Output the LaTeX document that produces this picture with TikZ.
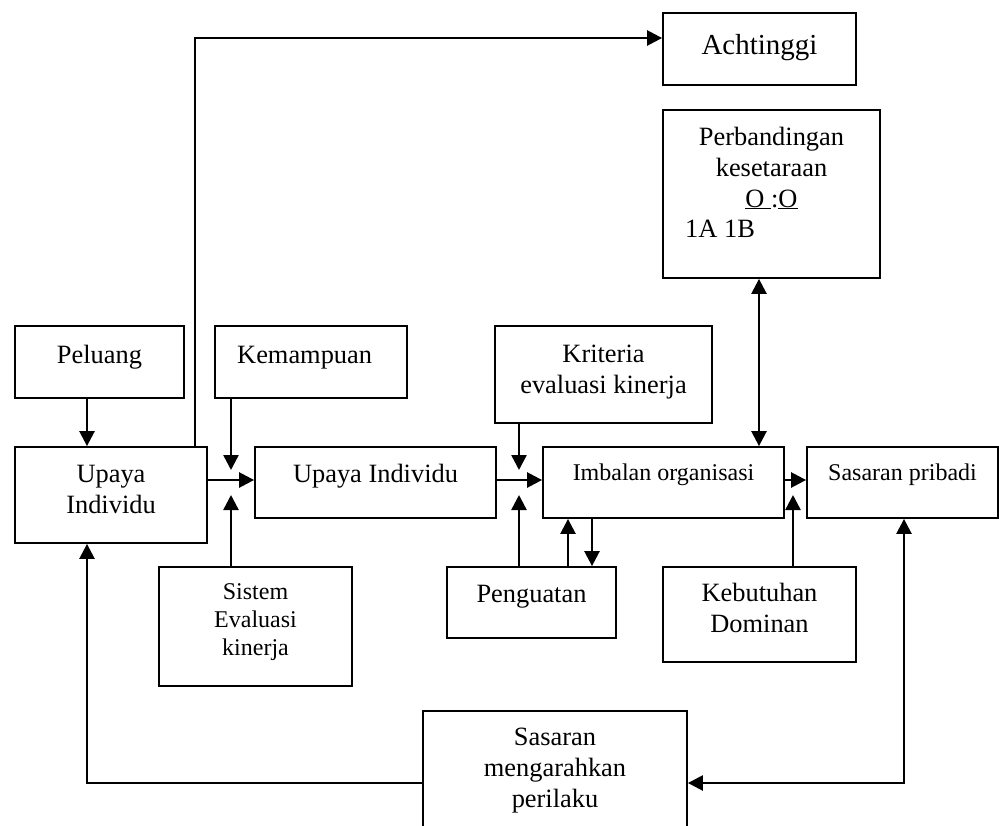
\documentclass[tikz,border=0pt]{standalone}
\usepackage{fontspec}
\setmainfont{Liberation Serif}
\usetikzlibrary{arrows.meta,fit}
\tikzset{
  box/.style={draw, line width=1.8pt, inner sep=0pt, rectangle},
  txt/.style={inner sep=0pt, font=\fontsize{26.4pt}{31pt}\selectfont, align=center},
  txtsm/.style={inner sep=0pt, font=\fontsize{24pt}{28pt}\selectfont, align=center},
  conn/.style={line width=2.5pt},
  arr/.style={conn, -{Triangle[length=15pt,width=15pt]}},
  darr/.style={conn, {Triangle[length=15pt,width=15pt]}-{Triangle[length=15pt,width=15pt]}}
}
\begin{document}
\begin{tikzpicture}[x=1pt,y=-1pt]
\useasboundingbox (0,0) rectangle (999,825);
\clip (0,0) rectangle (999,825);
\fill[white] (0,0) rectangle (999,825);

% boxes
\node[box, fit={(663,13) (856,85)}] (ach) {};
\node[box, fit={(663,110) (880,278)}] (perb) {};
\node[box, fit={(15,326) (184,398)}] (peluang) {};
\node[box, fit={(215,326) (407,398)}] (kemampuan) {};
\node[box, fit={(495,326) (712,423)}] (kriteria) {};
\node[box, fit={(15,447) (207,543)}] (upaya1) {};
\node[box, fit={(255,447) (496,518)}] (upaya2) {};
\node[box, fit={(543,447) (784,518)}] (imbalan) {};
\node[box, fit={(807,447) (998,518)}] (pribadi) {};
\node[box, fit={(159,567) (352,686)}] (sistem) {};
\node[box, fit={(447,567) (616,638)}] (penguatan) {};
\node[box, fit={(663,567) (856,662)}] (kebutuhan) {};
\node[box, fit={(423,711) (687,860)}] (sasaran) {};

% texts (multi-line nodes sit on the baseline of their last line)
\node[txt, anchor=base, font=\fontsize{29pt}{33pt}\selectfont] (tach) at (759.5,54) {Achtinggi};
\node[txt, anchor=base] (tperb) at (771.5,207) {Perbandingan\\kesetaraan\\\underline{O\ }:\underline{O}};
\node[txt, anchor=base west] (tperb2) at (685,237) {1A 1B};
\node[txt, anchor=base] (tpel) at (99.5,363) {Peluang};
\node[txt, anchor=base west] (tkem) at (237,363) {Kemampuan};
\node[txt, anchor=base] (tkri) at (603.5,393) {Kriteria\\evaluasi kinerja};
\node[txt, anchor=base] (tup1) at (111,513) {Upaya\\Individu};
\node[txt, anchor=base] (tup2) at (375.5,482) {Upaya Individu};
\node[txtsm, anchor=base] (timb) at (663.5,480) {Imbalan organisasi};
\node[txtsm, anchor=base] (tpri) at (902.5,480) {Sasaran pribadi};
\node[txtsm, anchor=base] (tsis) at (255.5,655) {Sistem\\Evaluasi\\kinerja};
\node[txt, anchor=base] (tpen) at (531.5,602) {Penguatan};
\node[txt, anchor=base] (tkeb) at (759.5,632) {Kebutuhan\\Dominan};
\node[txt, anchor=base] (tsas) at (555,807) {Sasaran\\mengarahkan\\perilaku};

% connector bends and free ends
\coordinate (topbend) at (195,38);
\coordinate (kemtip) at (231,470);
\coordinate (sistip) at (231,495);
\coordinate (kritip) at (519,470);
\coordinate (pentip) at (519,495);
\coordinate (kebtip) at (793,495);
\coordinate (lowR) at (904,783);
\coordinate (lowL) at (87,783);

% connectors
\draw[arr] (topbend |- upaya1.north) -- (topbend) -- (topbend -| ach.west);
\draw[arr] (peluang.south -| lowL) -- (upaya1.north -| lowL);
\draw[arr] (kemtip |- kemampuan.south) -- (kemtip);
\draw[arr] (sistip |- sistem.north) -- (sistip);
\draw[arr] (upaya1.east |- 0,480) -- (upaya2.west |- 0,480);
\draw[arr] (upaya2.east |- 0,480) -- (imbalan.west |- 0,480);
\draw[arr] (kritip |- kriteria.south) -- (kritip);
\draw[arr] (pentip |- penguatan.north) -- (pentip);
\draw[arr] (568,0 |- penguatan.north) -- (568,0 |- imbalan.south);
\draw[arr] (592,0 |- imbalan.south) -- (592,0 |- penguatan.north);
\draw[darr] (759,0 |- imbalan.north) -- (759,0 |- perb.south);
\draw[arr] (imbalan.east |- 0,480) -- (pribadi.west |- 0,480);
\draw[arr] (kebtip |- kebutuhan.north) -- (kebtip);
\draw[darr] (lowR |- pribadi.south) -- (lowR) -- (lowR -| sasaran.east);
\draw[arr] (lowR -| sasaran.west) -- (lowL) -- (lowL |- upaya1.south);
\end{tikzpicture}
\end{document}
